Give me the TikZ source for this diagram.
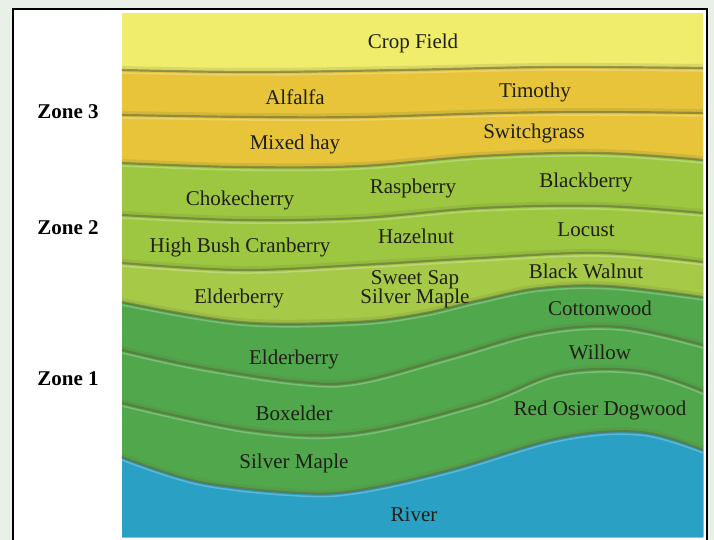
\documentclass[tikz,border=0pt]{standalone}
\usepackage{fontspec}
\setmainfont{Liberation Serif}
\definecolor{bgout}{HTML}{E8F0E8}
\definecolor{cropc}{HTML}{F0EC6C}
\definecolor{goldc}{HTML}{E7C43A}
\definecolor{lgreen}{HTML}{9DC740}
\definecolor{lgreenb}{HTML}{A6CA47}
\definecolor{dgreen}{HTML}{51A84C}
\definecolor{riverc}{HTML}{29A0C4}
\definecolor{txt}{HTML}{1F1F16}
\definecolor{edge}{HTML}{5E6A3A}
\tikzset{
  lbl/.style={text=txt,font=\fontsize{21}{22}\selectfont,inner sep=0pt,align=center},
  zone/.style={text=black,font=\fontsize{21}{22}\selectfont\bfseries,inner sep=0pt},
  seam/.style={draw=edge,line width=2.2pt,opacity=0.55},
  softshadow/.style={draw=edge,line width=5pt,opacity=0.15},
  glint/.style={draw=white,line width=1.5pt,opacity=0.25},
}
\newcommand{\layer}[2]{%
  \fill[#1] plot[smooth,tension=0.6] coordinates {#2} -- (703,537) -- (122,537) -- cycle;
  \draw[softshadow,yshift=1.5pt] plot[smooth,tension=0.6] coordinates {#2};
  \draw[glint,yshift=-3pt] plot[smooth,tension=0.6] coordinates {#2};
  \draw[seam] plot[smooth,tension=0.6] coordinates {#2};
}
\begin{document}
\begin{tikzpicture}[x=1pt,y=-1pt]
\useasboundingbox (0,0) rectangle (714,540);
\fill[bgout] (0,0) rectangle (714,540);
\fill[white] (13,9) rectangle (707,540);
\draw[black,line width=2pt] (13,541) -- (13,9) -- (707,9) -- (707,541);
% panel
\fill[cropc] (122,13) rectangle (703,537);
\layer{goldc}{(122,70) (250,72) (400,70) (550,67) (703,68)}
\layer{goldc}{(122,115) (250,117) (360,117) (500,113) (600,112) (703,113)}
\layer{lgreen}{(122,163) (240,167) (360,166) (480,156) (600,153) (703,160)}
\layer{lgreen}{(122,215) (240,220) (360,218) (480,208) (600,206) (703,213)}
\layer{lgreenb}{(122,263) (240,270) (360,265) (480,258) (600,253) (703,262)}
\layer{dgreen}{(122,302) (240,322) (354,322) (420,314) (480,300) (540,288) (610,286) (703,297)}
\layer{dgreen}{(122,350) (200,367) (300,382) (360,381) (450,357) (540,332) (620,327) (703,345)}
\layer{dgreen}{(122,403) (250,430) (354,433) (480,403) (560,373) (640,371) (703,391)}
\layer{riverc}{(122,457) (200,482) (300,493) (360,490) (450,470) (560,438) (640,432) (703,450)}
% labels
\node[lbl] (crop) at (413,43) {Crop Field};
\node[lbl] (alfalfa) at (295,97) {Alfalfa};
\node[lbl] (timothy) at (535,92) {Timothy};
\node[lbl] (mixed) at (295,144) {Mixed hay};
\node[lbl] (switch) at (534,133) {Switchgrass};
\node[lbl] (choke) at (240,200) {Chokecherry};
\node[lbl] (rasp) at (413,188) {Raspberry};
\node[lbl] (black) at (586,182) {Blackberry};
\node[lbl] (hbc) at (240,247) {High Bush Cranberry};
\node[lbl] (hazel) at (416,236) {Hazelnut};
\node[lbl] (locust) at (586,230) {Locust};
\node[lbl] (elder1) at (239,298) {Elderberry};
\node[lbl] (sweet) at (415,289) {Sweet Sap\\[-3pt]Silver Maple};
\node[lbl] (walnut) at (586,271) {Black Walnut};
\node[lbl] (cotton) at (600,308) {Cottonwood};
\node[lbl] (elder2) at (294,359) {Elderberry};
\node[lbl] (willow) at (600,352) {Willow};
\node[lbl] (boxelder) at (294,413) {Boxelder};
\node[lbl] (redosier) at (600,410) {Red Osier Dogwood};
\node[lbl] (silver) at (294,463) {Silver Maple};
\node[lbl] (river) at (414,515) {River};
\node[zone] (z3) at (68,112) {Zone 3};
\node[zone] (z2) at (68,228) {Zone 2};
\node[zone] (z1) at (68,379) {Zone 1};
\end{tikzpicture}
\end{document}
